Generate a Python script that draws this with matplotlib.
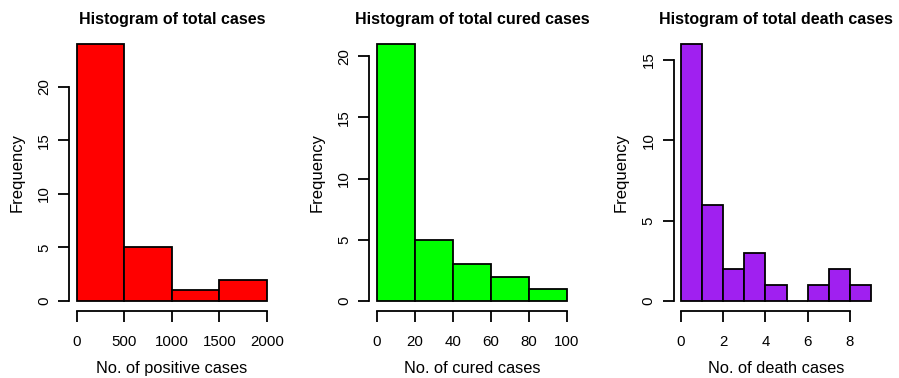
import matplotlib
matplotlib.use("Agg")
import matplotlib.pyplot as plt
import numpy as np

plt.rcParams['font.family'] = ['Liberation Sans', 'DejaVu Sans']

# Data
pos_edges = [0, 500, 1000, 1500, 2000]
pos_counts = [24, 5, 1, 2]
cured_edges = [0, 20, 40, 60, 80, 100]
cured_counts = [21, 5, 3, 2, 1]
death_edges = [0, 1, 2, 3, 4, 5, 6, 7, 8, 9]
death_counts = [16, 6, 2, 3, 1, 0, 1, 2, 1]

titles = ["Histogram of total cases", "Histogram of total cured cases", "Histogram of total death cases"]
xlabels = ["No. of positive cases", "No. of cured cases", "No. of death cases"]
colors = ["#FF0000", "#00FF00", "#A020F0"]
xticks = [[0, 500, 1000, 1500, 2000], [0, 20, 40, 60, 80, 100], [0, 2, 4, 6, 8]]
yticks = [[0, 5, 10, 15, 20], [0, 5, 10, 15, 20], [0, 5, 10, 15]]

W, H = 899, 378
fig = plt.figure(figsize=(W / 100, H / 100), dpi=100)

lefts_px = [69.4, 369.4, 673.5]
width_px = 205.0
top_px, bot_px = 33.7, 311.3

data = [(pos_edges, pos_counts), (cured_edges, cured_counts), (death_edges, death_counts)]

for i, (edges, counts) in enumerate(data):
    ax = fig.add_axes([lefts_px[i] / W, (H - bot_px) / H, width_px / W, (bot_px - top_px) / H])
    edges = np.array(edges, dtype=float)
    widths = np.diff(edges)
    ax.bar(edges[:-1], counts, width=widths, align='edge', color=colors[i],
           edgecolor='black', linewidth=1.3)
    xr = edges[-1] - edges[0]
    ax.set_xlim(edges[0] - 0.04 * xr, edges[-1] + 0.04 * xr)
    yr = max(counts)
    ax.set_ylim(-0.04 * yr, yr * 1.04)
    ax.set_xticks(xticks[i])
    ax.set_yticks(yticks[i])
    ax.set_yticklabels([str(t) for t in yticks[i]], rotation=90, va='center')
    for s in ['top', 'right']:
        ax.spines[s].set_visible(False)
    ax.spines['left'].set_bounds(yticks[i][0], yticks[i][-1])
    ax.spines['bottom'].set_bounds(xticks[i][0], xticks[i][-1])
    ax.spines['left'].set_linewidth(1.3)
    ax.spines['bottom'].set_linewidth(1.3)
    ax.tick_params(axis='both', direction='out', length=8, width=1.3, labelsize=10.8)
    ax.tick_params(axis='x', pad=9)
    ax.tick_params(axis='y', pad=5)
    ax.set_title(titles[i], fontsize=11.5, fontweight='bold', pad=7)
    ax.set_xlabel(xlabels[i], fontsize=11.8, labelpad=9)
    ax.set_ylabel("Frequency", fontsize=12, labelpad=9)

fig.savefig("out.png", dpi=100)
